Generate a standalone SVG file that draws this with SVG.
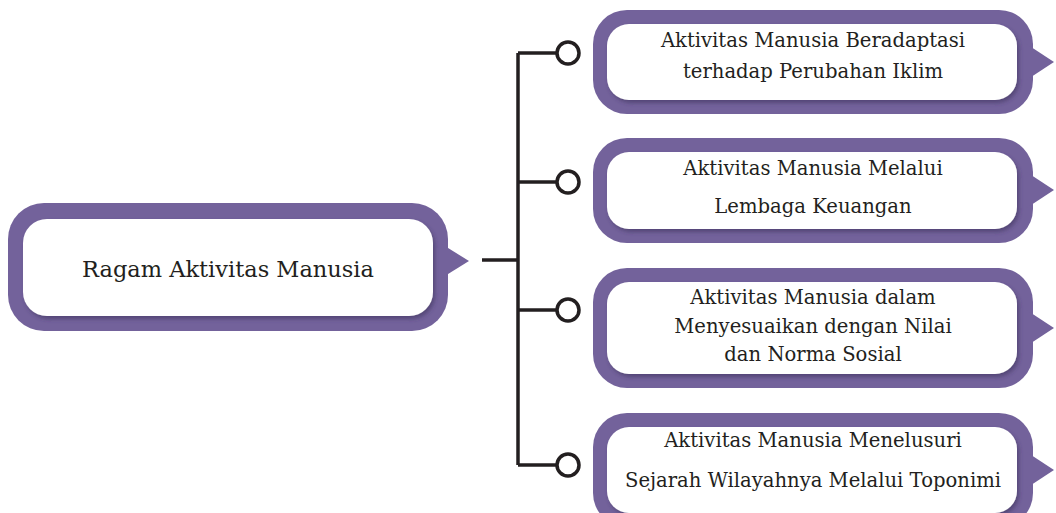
<svg xmlns="http://www.w3.org/2000/svg" width="1056" height="513" viewBox="0 0 1056 513">
  <defs>
    <filter id="sh" x="-5%" y="-10%" width="110%" height="130%">
      <feDropShadow dx="2" dy="3" stdDeviation="2" flood-color="#3b2d5a" flood-opacity="0.55"/>
    </filter>
  </defs>
  <style>
    .outer { fill: #73629b; }
    .inner { fill: #ffffff; filter: url(#sh); }
    .lbl { font-family: "DejaVu Serif", "Liberation Serif", serif; fill: #231f20; text-anchor: middle; }
    .main { font-size: 22.5px; }
    .sub { font-size: 19.6px; }
    .con { stroke: #231f20; stroke-width: 3.5; fill: none; }
    .dot { stroke: #231f20; stroke-width: 3.5; fill: #ffffff; }
  </style>
  <rect width="1056" height="513" fill="#ffffff"/>

  <g id="connectors">
    <line class="con" x1="482" y1="260" x2="518" y2="260"/>
    <line class="con" x1="518" y1="53" x2="518" y2="465"/>
    <line class="con" x1="518" y1="53" x2="556" y2="53"/>
    <line class="con" x1="518" y1="182" x2="556" y2="182"/>
    <line class="con" x1="518" y1="310" x2="556" y2="310"/>
    <line class="con" x1="518" y1="465" x2="556" y2="465"/>
    <circle class="dot" cx="568" cy="53" r="11"/>
    <circle class="dot" cx="568" cy="182" r="11"/>
    <circle class="dot" cx="568" cy="310" r="11"/>
    <circle class="dot" cx="568" cy="465" r="11"/>
  </g>

  <g id="node-main">
    <rect class="outer" x="8" y="203" width="440" height="128" rx="36"/>
    <polygon class="outer" points="440,243 469,261 440,279"/>
    <rect class="inner" x="23" y="219" width="410" height="97" rx="24"/>
    <text class="lbl main" x="228" y="277">Ragam Aktivitas Manusia</text>
  </g>

  <g id="node-1">
    <rect class="outer" x="593" y="10" width="440" height="104" rx="34"/>
    <polygon class="outer" points="1025,43 1054,62 1025,81"/>
    <rect class="inner" x="607" y="24" width="410" height="76" rx="22"/>
    <text class="lbl sub" x="813" y="47">Aktivitas Manusia Beradaptasi</text>
    <text class="lbl sub" x="813" y="78">terhadap Perubahan Iklim</text>
  </g>

  <g id="node-2">
    <rect class="outer" x="593" y="138" width="440" height="105" rx="34"/>
    <polygon class="outer" points="1025,171 1054,190 1025,209"/>
    <rect class="inner" x="607" y="152" width="410" height="77" rx="22"/>
    <text class="lbl sub" x="813" y="175">Aktivitas Manusia Melalui</text>
    <text class="lbl sub" x="813" y="213">Lembaga Keuangan</text>
  </g>

  <g id="node-3">
    <rect class="outer" x="593" y="268" width="440" height="120" rx="34"/>
    <polygon class="outer" points="1025,309 1054,328 1025,347"/>
    <rect class="inner" x="607" y="282" width="410" height="92" rx="22"/>
    <text class="lbl sub" x="813" y="304">Aktivitas Manusia dalam</text>
    <text class="lbl sub" x="813" y="333">Menyesuaikan dengan Nilai</text>
    <text class="lbl sub" x="813" y="361">dan Norma Sosial</text>
  </g>

  <g id="node-4">
    <rect class="outer" x="593" y="413" width="440" height="114" rx="34"/>
    <polygon class="outer" points="1025,451 1054,470 1025,489"/>
    <rect class="inner" x="607" y="427" width="410" height="86" rx="22"/>
    <text class="lbl sub" x="813" y="447">Aktivitas Manusia Menelusuri</text>
    <text class="lbl sub" x="813" y="487">Sejarah Wilayahnya Melalui Toponimi</text>
  </g>
</svg>
